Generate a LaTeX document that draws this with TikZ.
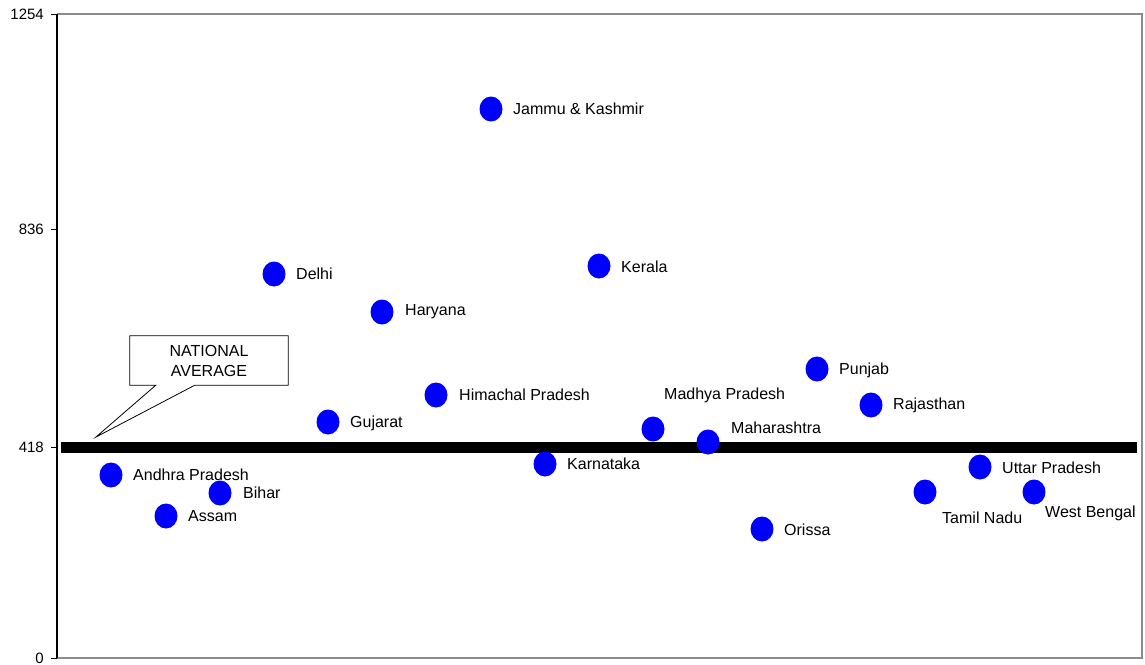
\documentclass[tikz,border=0pt]{standalone}
\usepackage{fontspec}
\setmainfont{Liberation Sans}
\usetikzlibrary{calc, positioning, shapes.geometric}
\definecolor{dotblue}{HTML}{0000FF}
\definecolor{framegray}{HTML}{8C8C8C}

\begin{document}
\begin{tikzpicture}[x=1pt, y=-1pt,
    dot/.style={ellipse, fill=dotblue, minimum width=23pt, minimum height=25pt, inner sep=0pt},
    lbl/.style={anchor=west, inner sep=0pt, font=\fontsize{16}{19}\selectfont},
    ticklbl/.style={anchor=east, inner sep=0pt, font=\fontsize{15}{18}\selectfont}]
	\useasboundingbox (0,0) rectangle (1145,664);
	% plot frame and axis
	\draw[framegray, line width=2pt] (57,14) -- (1142,14) -- (1142,658) -- (57,658);
	\draw[line width=1.2pt] (57,14) -- (57,658);
	\foreach \py/\val in {14/1254, 229/836, 447/418, 658/0} {
		\draw[line width=0.8pt] (51,\py) -- (57,\py);
		\node[ticklbl] (t\val) at (44,\py) {\val};
	}
	% national average
	\coordinate (avgL) at (61,447);
	\coordinate (avgR) at (1137,447);
	\draw[line width=11pt] (avgL) -- (avgR);
	% states
	\foreach \n/\px/\py/\lx/\ly/\txt in {
		ap/111/475/22/0/Andhra Pradesh, as/166/516/22/0/Assam, br/220/493/23/0/Bihar,
		dl/274/274/22/0/Delhi, gj/328/422/22/1/Gujarat, hr/382/312/23/0/Haryana,
		hp/436/395/23/0/Himachal Pradesh, jk/491/109/22/0/Jammu \& Kashmir,
		ka/545/464/22/0/Karnataka, kl/599/266/22/1/Kerala, mp/653/429/11/-34/Madhya Pradesh,
		mh/708/442/23/-14/Maharashtra, or/762/529/22/1/Orissa, pb/817/369/22/1/Punjab,
		rj/871/405/22/0/Rajasthan, tn/925/492/17/26/Tamil Nadu, up/980/467/22/1/Uttar Pradesh,
		wb/1034/492/11/21/West Bengal} {
		\node[dot] (\n) at (\px,\py) {};
		\node[lbl] (\n-l) at ($(\n)+(\lx,\ly)$) {\txt};
	}
	% callout
	\coordinate (tip) at (96,437);
	\node[minimum width=158pt, minimum height=49pt, align=center, inner sep=0pt,
	      font=\fontsize{16}{20}\selectfont] (nat) at (209,360.5) {NATIONAL\\AVERAGE};
	\draw[line width=0.8pt, line join=miter] (nat.north west) -- (nat.north east) -- (nat.south east)
		-- ($(nat.south west)+(65,0)$) -- (tip) -- ($(nat.south west)+(26,0)$)
		-- (nat.south west) -- cycle;
\end{tikzpicture}
\end{document}
